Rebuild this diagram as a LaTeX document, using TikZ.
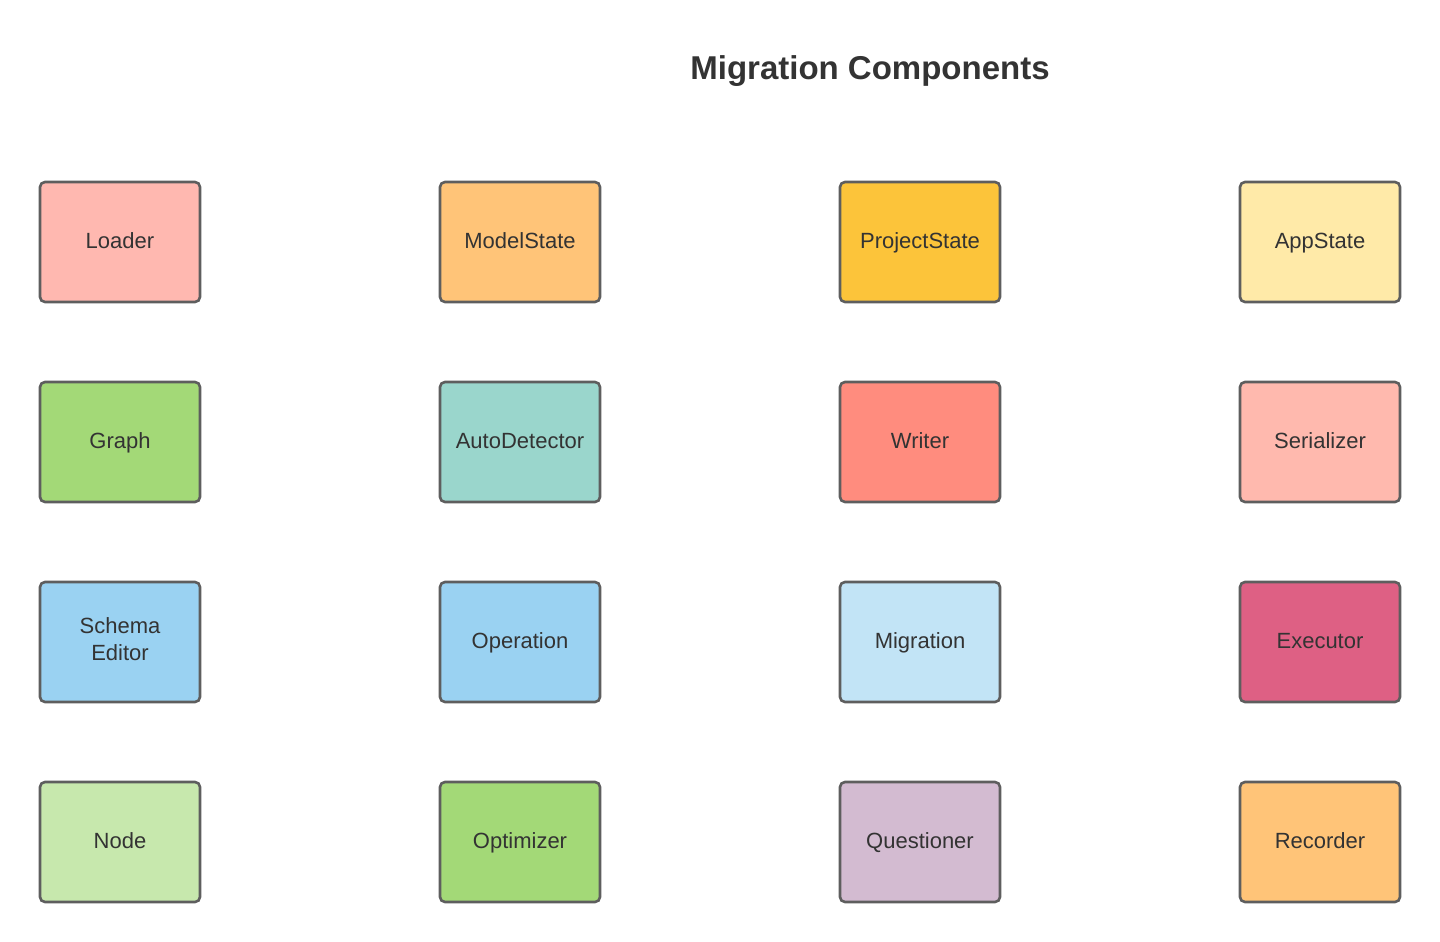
\documentclass[tikz,border=0pt]{standalone}
\usepackage{fontspec}
\setmainfont{Liberation Sans}
\definecolor{txt}{HTML}{333333}
\definecolor{edge}{HTML}{5E5E5E}
\definecolor{cLoader}{HTML}{FFB8B0}
\definecolor{cModel}{HTML}{FFC478}
\definecolor{cProject}{HTML}{FCC43A}
\definecolor{cApp}{HTML}{FFEAA8}
\definecolor{cGraph}{HTML}{A3D977}
\definecolor{cAuto}{HTML}{9AD6CC}
\definecolor{cWriter}{HTML}{FF8C7E}
\definecolor{cSer}{HTML}{FFB9AE}
\definecolor{cSchema}{HTML}{9AD2F2}
\definecolor{cMig}{HTML}{C2E4F6}
\definecolor{cExec}{HTML}{DE6084}
\definecolor{cNode}{HTML}{C7E8AD}
\definecolor{cQuest}{HTML}{D3BBD1}
\begin{document}
\begin{tikzpicture}[x=1pt,y=-1pt,
  comp/.style={draw=edge, line width=2.6pt, rounded corners=5pt, minimum width=160pt, minimum height=120pt, inner sep=0pt, text=txt, font=\fontsize{22}{27}\selectfont, align=center, text width=150pt},
  lbl/.style={text=txt, font=\fontsize{22}{27}\selectfont, align=center, text height=15.5pt, text depth=4.5pt, inner sep=0pt},
  title/.style={text=txt, font=\fontsize{33}{40}\selectfont\bfseries, text height=23pt, text depth=7pt, inner sep=0pt}]
\useasboundingbox (0,0) rectangle (1440,942);
\fill[white] (0,0) rectangle (1440,942);
\node[title] (title) at (870,72) {Migration Components};
\foreach \nm/\x/\y/\c/\t in {loader/120/242/cLoader/Loader, model/520/242/cModel/ModelState, project/920/242/cProject/ProjectState, app/1320/242/cApp/AppState, graph/120/442/cGraph/Graph, auto/520/442/cAuto/AutoDetector, writer/920/442/cWriter/Writer, ser/1320/442/cSer/Serializer, oper/520/642/cSchema/Operation, mig/920/642/cMig/Migration, exec/1320/642/cExec/Executor, node/120/842/cNode/Node, opt/520/842/cGraph/Optimizer, quest/920/842/cQuest/Questioner, rec/1320/842/cModel/Recorder}{
  \node[comp, fill=\c] (\nm) at (\x,\y) {};
  \node[lbl] (\nm-t) at (\x,\y+1) {\t};
}
\node[comp, fill=cSchema] (schema) at (120,642) {};
\node[lbl] (schema-t1) at (120,628) {Schema};
\node[lbl] (schema-t2) at (120,655) {Editor};
\end{tikzpicture}
\end{document}
